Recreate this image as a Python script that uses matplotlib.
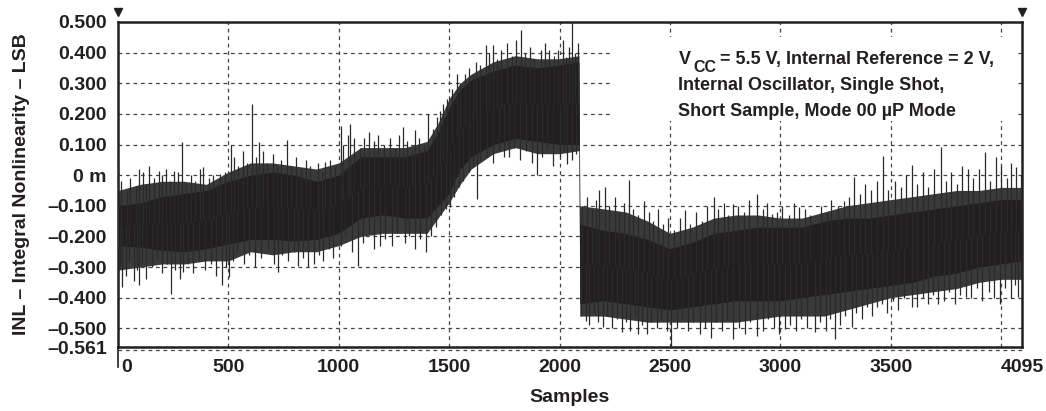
import numpy as np
import matplotlib
matplotlib.use("Agg")
import matplotlib.pyplot as plt
import matplotlib.transforms as mtransforms
from matplotlib.patches import Rectangle

plt.rcParams["font.family"] = ["Liberation Sans", "DejaVu Sans"]
plt.rcParams["font.weight"] = "bold"

# INL: dense band (core) and outer fringe, per sample position
samples = [0, 100, 200, 300, 400, 500, 600, 700, 800, 900, 1000, 1100, 1200, 1300, 1400,
           1450, 1500, 1550, 1600, 1700, 1800, 1900, 2000, 2088, 2092,
           2200, 2300, 2400, 2500, 2600, 2700, 2800, 2900, 3000, 3100, 3200, 3300, 3400,
           3500, 3600, 3700, 3800, 3900, 4000, 4095]
core_hi = [-0.10, -0.09, -0.07, -0.06, -0.05, -0.02, 0.00, 0.01, 0.00, -0.02, 0.00, 0.06, 0.06, 0.06, 0.08,
           0.14, 0.22, 0.28, 0.31, 0.34, 0.36, 0.35, 0.36, 0.37, -0.16,
           -0.18, -0.19, -0.21, -0.24, -0.22, -0.19, -0.18, -0.17, -0.17, -0.17, -0.15, -0.14, -0.14,
           -0.13, -0.12, -0.11, -0.10, -0.09, -0.08, -0.08]
core_lo = [-0.23, -0.235, -0.245, -0.25, -0.24, -0.225, -0.21, -0.21, -0.215, -0.21, -0.19, -0.14, -0.13, -0.14, -0.14,
           -0.10, -0.06, 0.02, 0.06, 0.10, 0.12, 0.11, 0.10, 0.10, -0.42,
           -0.41, -0.42, -0.43, -0.44, -0.43, -0.42, -0.41, -0.41, -0.41, -0.40, -0.39, -0.38, -0.37,
           -0.36, -0.35, -0.33, -0.32, -0.30, -0.29, -0.28]
fringe_hi = [-0.05, -0.03, -0.02, -0.02, -0.03, 0.01, 0.04, 0.04, 0.03, 0.02, 0.04, 0.09, 0.09, 0.09, 0.11,
             0.17, 0.25, 0.30, 0.33, 0.37, 0.39, 0.38, 0.38, 0.39, -0.10,
             -0.11, -0.12, -0.15, -0.19, -0.17, -0.14, -0.13, -0.13, -0.14, -0.14, -0.12, -0.10, -0.09,
             -0.08, -0.07, -0.06, -0.05, -0.05, -0.04, -0.04]
fringe_lo = [-0.31, -0.30, -0.29, -0.29, -0.28, -0.28, -0.25, -0.26, -0.25, -0.25, -0.23, -0.20, -0.19, -0.19, -0.19,
             -0.14, -0.09, -0.03, 0.02, 0.07, 0.09, 0.07, 0.07, 0.08, -0.46,
             -0.46, -0.47, -0.48, -0.48, -0.48, -0.48, -0.48, -0.47, -0.46, -0.46, -0.46, -0.44, -0.42,
             -0.40, -0.39, -0.38, -0.37, -0.35, -0.34, -0.34]

# single spikes above the band (sample, INL)
up_x = [2, 15, 40, 55, 80, 95, 115, 128, 140, 165, 186, 200, 219, 235, 254, 270, 288, 310, 330,
        350, 370, 386, 410, 430, 450, 462, 485,
        513, 525, 545, 565, 585, 608, 625, 639, 655, 675, 700, 722, 740, 764, 785, 805, 830, 850,
        870, 905, 925, 937, 960, 985,
        1008, 1020, 1040, 1051, 1070, 1095, 1115, 1138, 1160, 1180, 1205, 1230, 1255, 1275, 1292,
        1310, 1330, 1345, 1365, 1385, 1405,
        1425, 1445, 1460, 1473, 1490, 1515, 1536, 1550, 1570, 1590, 1606, 1620, 1640,
        1666, 1680, 1697, 1715, 1735, 1760, 1785, 1805, 1825, 1845, 1865, 1885, 1915, 1935, 1954,
        1975, 1995, 2015, 2029, 2045, 2057, 2070, 2082,
        2100, 2125, 2145, 2165, 2180, 2207, 2225, 2250, 2270, 2290, 2313, 2335, 2355, 2384, 2405,
        2425, 2445, 2470, 2490,
        2520, 2545, 2569, 2590, 2620, 2645, 2670, 2698, 2720, 2745, 2765, 2788, 2810, 2835, 2860,
        2894, 2920, 2940, 2962, 2985, 3010, 3040, 3060, 3083, 3110, 3135, 3185, 3210, 3230, 3260,
        3287, 3310, 3336, 3360, 3385, 3410, 3440, 3466, 3490, 3520, 3545, 3570, 3595, 3620, 3645,
        3670, 3695, 3730, 3750, 3775, 3800, 3825, 3851, 3875, 3900, 3927, 3950, 3979, 4000, 4025,
        4045, 4070, 4090]
up_y = [0.048, -0.02, -0.05, -0.01, -0.04, 0.02, 0.01, -0.03, 0.03, -0.01, 0.015, 0.0, 0.02, -0.02,
        0.015, 0.01, 0.108, -0.03, 0.0, -0.02, 0.02, 0.028, -0.01, 0.0, -0.03, 0.004, 0.01,
        0.097, 0.06, 0.03, 0.08, 0.04, 0.233, 0.06, 0.108, 0.08, 0.04, 0.07, 0.026, 0.05, 0.115, 0.03,
        0.06, 0.02, 0.05, 0.03, 0.04, 0.01, 0.042, 0.05, 0.03,
        0.162, 0.10, 0.13, 0.168, 0.12, 0.09, 0.12, 0.14, 0.11, 0.13, 0.10, 0.12, 0.09, 0.13, 0.157,
        0.11, 0.08, 0.146, 0.12, 0.10, 0.20,
        0.15, 0.19, 0.21, 0.233, 0.25, 0.28, 0.331, 0.30, 0.33, 0.35, 0.326, 0.37, 0.36,
        0.424, 0.40, 0.424, 0.38, 0.41, 0.43, 0.39, 0.44, 0.473, 0.40, 0.42, 0.38, 0.41, 0.43, 0.407,
        0.39, 0.41, 0.44, 0.386, 0.42, 0.50, 0.40, 0.43,
        -0.10, -0.07, -0.11, -0.08, -0.05, -0.04, -0.10, -0.07, -0.12, -0.09, -0.017, -0.11, -0.13,
        -0.083, -0.12, -0.15, -0.11, -0.16, -0.14,
        -0.18, -0.14, -0.115, -0.16, -0.12, -0.15, -0.10, -0.072, -0.11, -0.09, -0.13, -0.094, -0.10,
        -0.12, -0.08, -0.061, -0.11, -0.09, -0.126, -0.12, -0.10, -0.13, -0.09, -0.105, -0.11, -0.13,
        -0.10, -0.12, -0.08, -0.10, -0.083, -0.07, -0.007, -0.06, -0.03, -0.05, -0.02, 0.064, -0.05,
        -0.02, -0.04, 0.0, 0.032, -0.03, 0.01, -0.04, 0.02, 0.092, -0.02, 0.01, -0.03, 0.03, 0.021,
        -0.01, 0.02, 0.075, -0.02, 0.059, 0.03, -0.01, 0.04, 0.026, 0.0]

# single spikes below the band (sample, INL)
dn_x = [2, 10, 20, 35, 50, 72, 85, 95, 110, 125, 155, 175, 200, 220, 238, 260, 280, 296, 315, 340,
        365, 395, 420, 445, 472, 490,
        503, 520, 540, 570, 595, 620, 650, 680, 705, 725, 745, 770, 795, 817, 840, 860, 888, 910,
        930, 955, 975,
        1010, 1030, 1060, 1088, 1110, 1135, 1160, 1187, 1210, 1240, 1265, 1300, 1320, 1345, 1370,
        1395, 1420, 1440, 1465, 1485, 1503, 1520, 1545, 1565, 1590, 1610, 1624, 1640,
        1670, 1700, 1725, 1750, 1770, 1795, 1820, 1850, 1875, 1897, 1920, 1945, 1970, 2000, 2020,
        2036, 2055, 2074,
        2098, 2119, 2135, 2155, 2175, 2195, 2215, 2240, 2260, 2283, 2300, 2320, 2340, 2354, 2375,
        2395, 2415, 2440, 2460, 2485, 2505,
        2530, 2555, 2580, 2605, 2637, 2660, 2685, 2710, 2735, 2760, 2788, 2815, 2840, 2865, 2894,
        2920, 2945, 2970, 2995, 3022, 3045, 3070, 3095, 3120, 3158, 3180, 3205, 3225, 3249, 3270,
        3295, 3323, 3345, 3370, 3395, 3415, 3436, 3460, 3485, 3510, 3535, 3560, 3595, 3620, 3645,
        3670, 3690, 3715, 3740, 3765, 3790, 3815, 3843, 3865, 3890, 3915, 3945, 3970, 3994, 4020,
        4045, 4065, 4077]
dn_y = [-0.40, -0.30, -0.366, -0.33, -0.28, -0.344, -0.31, -0.36, -0.29, -0.34, -0.30, -0.27, -0.32,
        -0.29, -0.388, -0.31, -0.34, -0.317, -0.29, -0.32, -0.28, -0.31, -0.29, -0.33, -0.36, -0.30,
        -0.333, -0.28, -0.25, -0.29, -0.26, -0.30, -0.27, -0.24, -0.29, -0.317, -0.26, -0.28, -0.25,
        -0.295, -0.27, -0.30, -0.29, -0.26, -0.28, -0.24, -0.27,
        -0.23, -0.20, -0.25, -0.295, -0.22, -0.19, -0.24, -0.23, -0.21, -0.23, -0.19, -0.22, -0.20,
        -0.24, -0.21, -0.252, -0.20, -0.17, -0.13, -0.11, -0.105, -0.07, -0.04, -0.02, 0.01, 0.03,
        -0.077, 0.05,
        0.06, 0.04, 0.08, 0.059, 0.06, 0.09, 0.05, 0.08, 0.04, 0.0, 0.06, 0.09, 0.03, 0.06, 0.08,
        0.037, 0.05, 0.07,
        -0.46, -0.475, -0.49, -0.45, -0.48, -0.497, -0.46, -0.50, -0.47, -0.513, -0.48, -0.51, -0.46,
        -0.519, -0.49, -0.52, -0.48, -0.50, -0.47, -0.51, -0.561,
        -0.50, -0.47, -0.51, -0.48, -0.519, -0.50, -0.53, -0.48, -0.51, -0.47, -0.535, -0.50, -0.52,
        -0.48, -0.524, -0.51, -0.47, -0.50, -0.52, -0.502, -0.49, -0.51, -0.47, -0.50, -0.513, -0.48,
        -0.51, -0.47, -0.535, -0.49, -0.46, -0.497, -0.45, -0.47, -0.43, -0.46, -0.431, -0.42, -0.45,
        -0.41, -0.44, -0.40, -0.431, -0.43, -0.40, -0.42, -0.39, -0.42, -0.41, -0.38, -0.42, -0.39,
        -0.399, -0.40, -0.37, -0.41, -0.38, -0.40, -0.42, -0.37, -0.40, -0.36, -0.399]

yticks = [0.5, 0.4, 0.3, 0.2, 0.1, 0.0, -0.1, -0.2, -0.3, -0.4, -0.5, -0.561]
ytick_labels = ["0.500", "0.400", "0.300", "0.200", "0.100", "0 m", "–0.100", "–0.200",
                "–0.300", "–0.400", "–0.500", "–0.561"]
xticks = [0, 500, 1000, 1500, 2000, 2500, 3000, 3500, 4095]
xgrid = [0, 500, 1000, 1500, 2000, 2500, 3000, 3500, 4000]

ink = "#231f20"

fig = plt.figure(figsize=(10.46, 4.11), dpi=100)
ax = fig.add_axes([118 / 1046, 1 - 347 / 411, 904 / 1046, 325 / 411])

# dashed grid under the data
for g in xgrid:
    ax.axvline(g, color="#444444", lw=0.9, ls=(0, (3, 3)), zorder=0)
for g in yticks:
    ax.axhline(g, color="#444444", lw=0.9, ls=(0, (3, 3)), zorder=0)
# the plotter's grid sits a hair below the frame at the bottom
shift = ax.get_yaxis_transform() + mtransforms.ScaledTranslation(0, -3 / 100, fig.dpi_scale_trans)
ax.plot([0, 1], [-0.561, -0.561], color="#444444", lw=0.9, ls=(0, (3, 3)),
        transform=shift, clip_on=False)

# INL trace: fringe, dense core, then the single spikes
ax.fill_between(samples, fringe_lo, fringe_hi, color="#3a3a3a", lw=0, zorder=1)
ax.fill_between(samples, core_lo, core_hi, color=ink, lw=0, zorder=2)
mid = (np.array(core_hi) + np.array(core_lo)) / 2
ax.vlines(up_x, np.interp(up_x, samples, mid), up_y, color="#2a2a2a", lw=0.9, zorder=3)
ax.vlines(dn_x, dn_y, np.interp(dn_x, samples, mid), color="#2a2a2a", lw=0.9, zorder=3)

ax.set_xlim(0, 4095)
ax.set_ylim(-0.561, 0.5)
ax.set_xticks(xticks)
ax.set_xticklabels([str(t) for t in xticks])
ax.set_yticks(yticks)
ax.set_yticklabels(ytick_labels)
ax.tick_params(length=0, labelsize=14, colors=ink)
ax.tick_params(axis="x", pad=9)
ax.tick_params(axis="y", pad=8)
# the "0" label sits a little right of the axis
lbl0 = ax.get_xticklabels()[0]
lbl0.set_horizontalalignment("left")
lbl0.set_transform(lbl0.get_transform() + mtransforms.ScaledTranslation(3 / 100, 0, fig.dpi_scale_trans))
for s in ax.spines.values():
    s.set_linewidth(1.8)
    s.set_color(ink)

ax.set_xlabel("Samples", fontsize=14, fontweight="bold", color=ink, labelpad=9)
ax.set_ylabel("INL – Integral Nonlinearity – LSB", fontsize=14, fontweight="bold",
              color=ink, labelpad=12)

# cursor markers
trans = mtransforms.blended_transform_factory(ax.transData, ax.transAxes)
ax.plot([0, 4095], [1.03, 1.03], ls="none", marker="v", ms=6, color=ink,
        transform=trans, clip_on=False)
ax.plot([0, 0], [0, -0.06], color=ink, lw=1.2, transform=trans, clip_on=False)

# condition note on a white patch that hides the grid, V with a large CC subscript
ax.add_patch(Rectangle((0.546, 0.695), 0.448, 0.26, transform=ax.transAxes,
                       facecolor="white", edgecolor="none", zorder=0.5))
note_kw = dict(fontsize=13, fontweight="bold", color=ink, transform=ax.transAxes,
               ha="left", va="baseline", zorder=4)
ax.text(0.62, 0.87, "V", **note_kw)
ax.text(0.637, 0.845, "CC", fontsize=11.5, fontweight="bold", color=ink,
        transform=ax.transAxes, ha="left", va="baseline", zorder=4)
ax.text(0.6655, 0.87, "= 5.5 V, Internal Reference = 2 V,", **note_kw)
ax.text(0.62, 0.79, "Internal Oscillator, Single Shot,", **note_kw)
ax.text(0.62, 0.71, "Short Sample, Mode 00 µP Mode", **note_kw)

fig.savefig("out.png", dpi=100)
